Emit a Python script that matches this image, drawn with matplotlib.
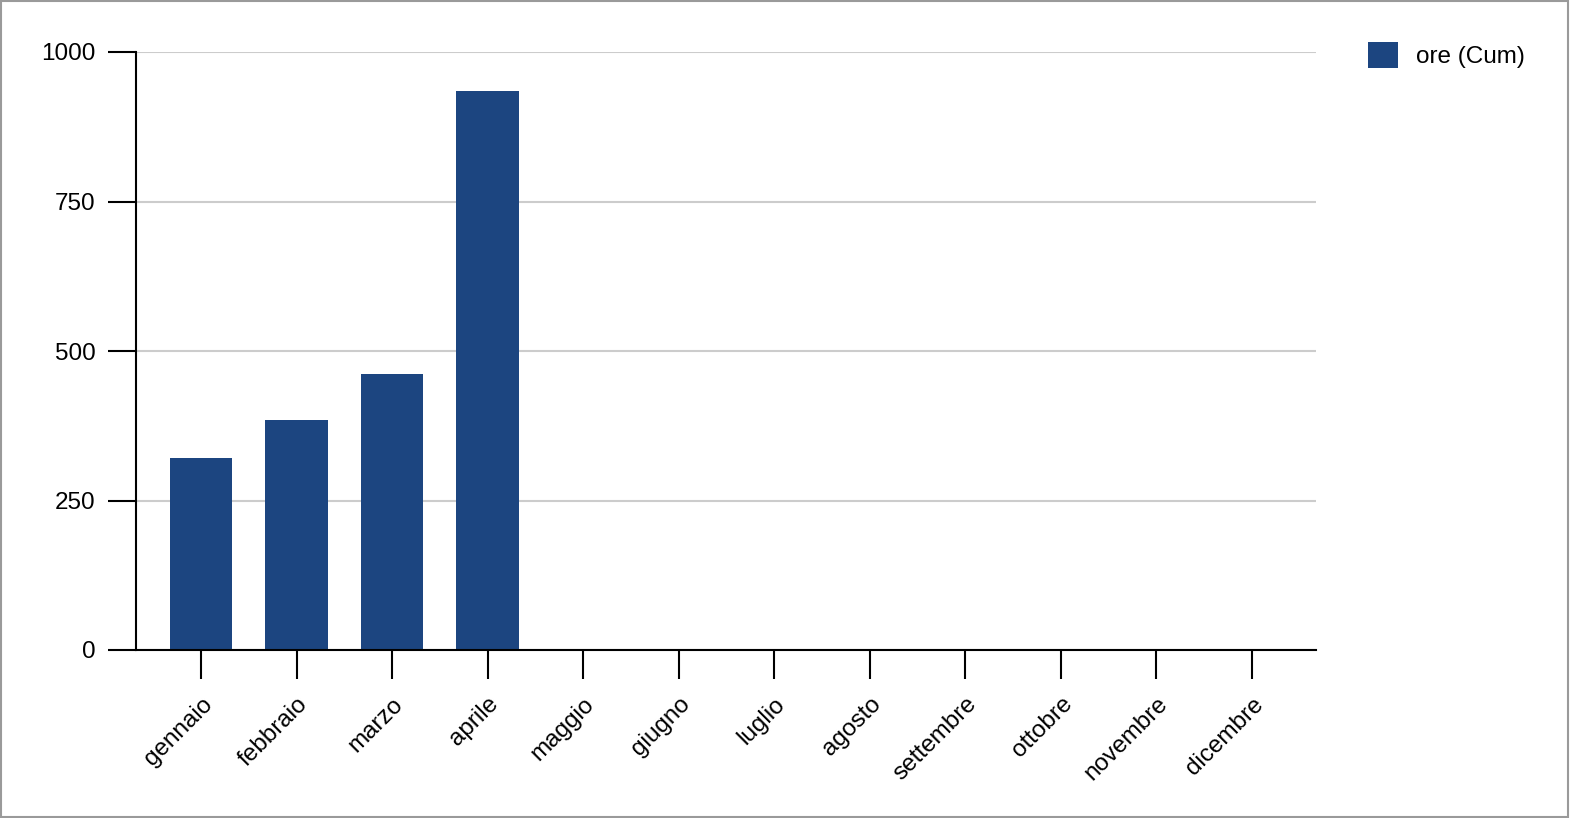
import matplotlib
matplotlib.use("Agg")
import matplotlib.pyplot as plt
from matplotlib.patches import Rectangle

months = ["gennaio", "febbraio", "marzo", "aprile", "maggio", "giugno",
          "luglio", "agosto", "settembre", "ottobre", "novembre", "dicembre"]
ore_cum = [321, 385, 462, 935, 0, 0, 0, 0, 0, 0, 0, 0]
yticks = [0, 250, 500, 750, 1000]
series_name = "ore (Cum)"
bar_color = "#1c4580"

plt.rcParams['font.family'] = ['Liberation Sans', 'DejaVu Sans']

fig = plt.figure(figsize=(15.70, 8.18), dpi=100)
ax = fig.add_axes([136/1570, 1 - 650/818, (1316-136)/1570, (650-52)/818])

x = list(range(len(months)))
ax.bar(x, ore_cum, width=0.655, color=bar_color, label=series_name, zorder=2,
       linewidth=0)

ax.set_xlim(-0.68, 11.67)
ax.set_ylim(0, 1000)
ax.set_yticks(yticks)
ax.set_yticklabels([str(v) for v in yticks], fontsize=17.5)
ax.set_xticks(x)
ax.set_xticklabels(months, fontsize=17.5, rotation=45, ha='right', va='top',
                   rotation_mode='anchor')

ax.yaxis.grid(True, color='#cccccc', linewidth=1.5, zorder=0)
ax.set_axisbelow(True)
for s in ['top', 'right']:
    ax.spines[s].set_visible(False)
for s in ['left', 'bottom']:
    ax.spines[s].set_color('black')
    ax.spines[s].set_linewidth(1.5)
    ax.spines[s].set_zorder(4)
ax.tick_params(axis='y', length=20, width=1.5, pad=9, colors='black')
ax.tick_params(axis='x', length=21, width=1.5, pad=10, colors='black')

leg = ax.legend(loc='upper left', bbox_to_anchor=(1346/1570, 1 - 20/818),
                bbox_transform=fig.transFigure, frameon=False, fontsize=17.5,
                handlelength=1.25, handleheight=1.3, handletextpad=0.75)

fig.patches.append(Rectangle((0.0005, 0.001), 0.998, 0.998, transform=fig.transFigure,
                             fill=False, edgecolor='#9a9a9a', linewidth=1.5))

fig.savefig("out.png", dpi=100, facecolor='white')
